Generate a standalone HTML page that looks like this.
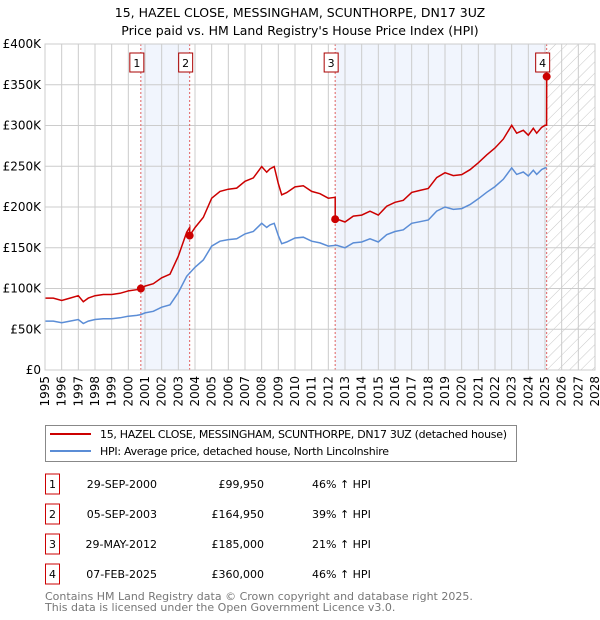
<!DOCTYPE html>
<html><head><meta charset="utf-8"><style>
body{margin:0;background:#fff;}
svg{display:block;font-family:"DejaVu Sans","Liberation Sans",sans-serif;}
</style></head><body>
<svg id="c" width="600" height="620" viewBox="0 0 600 620">
<defs>
<pattern id="hatch" width="8" height="8" patternUnits="userSpaceOnUse" patternTransform="rotate(45)">
<line x1="0" y1="0" x2="0" y2="8" stroke="#c8c8c8" stroke-width="1"/>
</pattern>
</defs>
<text x="300" y="17" text-anchor="middle" font-size="12.5" fill="#000">15, HAZEL CLOSE, MESSINGHAM, SCUNTHORPE, DN17 3UZ</text>
<text x="300" y="35" text-anchor="middle" font-size="12.5" fill="#000">Price paid vs. HM Land Registry's House Price Index (HPI)</text>
<g id="plot"></g>
<g id="legend">
<rect x="45.5" y="425.5" width="471" height="36" fill="#fff" stroke="#888"/>
<line x1="50" y1="434" x2="91" y2="434" stroke="#cc0000" stroke-width="2"/>
<text x="100" y="438" font-size="11" textLength="407">15, HAZEL CLOSE, MESSINGHAM, SCUNTHORPE, DN17 3UZ (detached house)</text>
<line x1="50" y1="451" x2="91" y2="451" stroke="#5b8dd6" stroke-width="2"/>
<text x="100" y="455" font-size="11" textLength="289">HPI: Average price, detached house, North Lincolnshire</text>
</g>
<g id="table"></g>
<text x="45" y="600" font-size="11" fill="#777">Contains HM Land Registry data © Crown copyright and database right 2025.</text>
<text x="45" y="611" font-size="11" fill="#777">This data is licensed under the Open Government Licence v3.0.</text>
</svg>
<script>
const hpiYears=[1995,1995.5,1996,1996.5,1997,1997.3,1997.6,1998,1998.5,1999,1999.5,2000,2000.5,2000.75,2001,2001.5,2002,2002.5,2003,2003.5,2004,2004.5,2005,2005.5,2006,2006.5,2007,2007.5,2008,2008.3,2008.5,2008.75,2009,2009.2,2009.5,2010,2010.5,2011,2011.5,2012,2012.5,2013,2013.5,2014,2014.5,2015,2015.5,2016,2016.5,2017,2017.5,2018,2018.5,2019,2019.5,2020,2020.5,2021,2021.5,2022,2022.5,2023,2023.3,2023.7,2024,2024.3,2024.5,2024.8,2025,2025.1];
const hpiValues=[60,60,58,60,62,57,60,62,63,63,64,66,67,68,70,72,77,80,95,115,126,135,152,158,160,161,167,170,180,175,178,180,165,155,157,162,163,158,156,152,153,150,156,157,161,157,166,170,172,180,182,184,195,200,197,198,203,210,218,225,234,248,240,243,238,245,240,246,248,248];
const saleLabels=["1","2","3","4"];
const saleDates=["29-SEP-2000","05-SEP-2003","29-MAY-2012","07-FEB-2025"];
const saleYears=[2000.75,2003.68,2012.41,2025.1];
const salePrices=[99950,164950,185000,360000];
const salePcts=["46% ↑ HPI","39% ↑ HPI","21% ↑ HPI","46% ↑ HPI"];
const yTicks=[0,50,100,150,200,250,300,350,400];
const yTickLabels=["£0","£50K","£100K","£150K","£200K","£250K","£300K","£350K","£400K"];
const xTicks=[1995,1996,1997,1998,1999,2000,2001,2002,2003,2004,2005,2006,2007,2008,2009,2010,2011,2012,2013,2014,2015,2016,2017,2018,2019,2020,2021,2022,2023,2024,2025,2026,2027,2028];

const NS="http://www.w3.org/2000/svg";
const X0=45,X1=595,Y0=370,Y1=44;
const xs=y=>X0+(y-1995)/(2028-1995)*(X1-X0);
const ys=v=>Y0-v/400*(Y0-Y1);
function mk(tag,attrs,parent){const e=document.createElementNS(NS,tag);for(const k in attrs)e.setAttribute(k,attrs[k]);parent.appendChild(e);return e;}
function hpiAt(t){for(let i=0;i<hpiYears.length-1;i++){if(t<=hpiYears[i+1]){const f=(t-hpiYears[i])/(hpiYears[i+1]-hpiYears[i]);return hpiValues[i]+f*(hpiValues[i+1]-hpiValues[i]);}}return hpiValues[hpiValues.length-1];}
const plot=document.getElementById('plot');

for(let i=0;i<saleYears.length;i+=2){
  const r=mk('rect',{x:xs(saleYears[i]),y:Y1,width:xs(saleYears[i+1])-xs(saleYears[i]),height:Y0-Y1,fill:'#eef3fd',opacity:0.8},plot);
  
  
}
const h=mk('rect',{x:xs(saleYears[3]),y:Y1,width:X1-xs(saleYears[3]),height:Y0-Y1,fill:'url(#hatch)'},plot);



xTicks.forEach(t=>{
  const l=mk('line',{x1:xs(t),x2:xs(t),y1:Y1,y2:Y0,stroke:'#cccccc','stroke-width':1},plot);
  
  
  const tx=mk('text',{x:0,y:0,'font-size':12,'text-anchor':'end',transform:`translate(${xs(t)+4},${Y0+6}) rotate(-90)`},plot);
  tx.textContent=t;
  
  
});
yTicks.forEach((t,i)=>{
  const l=mk('line',{x1:X0,x2:X1,y1:ys(t),y2:ys(t),stroke:'#cccccc','stroke-width':1},plot);
  
  
  const tx=mk('text',{x:X0-4,y:ys(t)+4,'font-size':12,'text-anchor':'end'},plot);
  tx.textContent=yTickLabels[i];
  
  
});

saleYears.forEach(s=>{
  const l=mk('line',{x1:xs(s),x2:xs(s),y1:Y1,y2:Y0,stroke:'#e06060','stroke-width':1,'stroke-dasharray':'2,2'},plot);
  
  
});

let d='';
hpiYears.forEach((t,i)=>{d+=(i?'L':'M')+xs(t).toFixed(1)+','+ys(hpiValues[i]).toFixed(1);});
const hp=mk('path',{d:d,fill:'none',stroke:'#5b8dd6','stroke-width':1.5},plot);



let pd='';
let first=true;
const pts=[];
hpiYears.forEach((t)=>{
  let k=0;for(let j=0;j<saleYears.length;j++)if(saleYears[j]<=t)k=j;
  const ratio=(salePrices[k]/1000)/hpiAt(saleYears[k]);
  pts.push([t,hpiAt(t)*ratio]);
});
saleYears.forEach((s,k)=>{
  const prev=k>0?k-1:0;
  const r0=(salePrices[prev]/1000)/hpiAt(saleYears[prev]);
  pts.push([s-0.001,hpiAt(s)*r0]);
  pts.push([s,salePrices[k]/1000]);
});
pts.sort((a,b)=>a[0]-b[0]);
pts.forEach(p=>{pd+=(first?'M':'L')+xs(p[0]).toFixed(1)+','+ys(p[1]).toFixed(1);first=false;});
const pp=mk('path',{d:pd,fill:'none',stroke:'#cc0000','stroke-width':1.5},plot);



saleYears.forEach((s,k)=>{
  const c=mk('circle',{cx:xs(s),cy:ys(salePrices[k]/1000),r:4,fill:'#cc0000'},plot);
  
  
  const bx=xs(s)-11;
  const b=mk('rect',{x:bx,y:53,width:14,height:19,fill:'#fff',stroke:'#aa0000'},plot);
  
  
  const t=mk('text',{x:bx+7,y:67,'font-size':11,'text-anchor':'middle'},plot);
  t.textContent=saleLabels[k];
  
  
});

const ax=mk('rect',{x:X0,y:Y1,width:X1-X0,height:Y0-Y1,fill:'none',stroke:'#cccccc'},plot);



const tb=document.getElementById('table');
saleLabels.forEach((lab,k)=>{
  const cy=484+k*30;
  const r=mk('rect',{x:45.5,y:cy-10,width:14,height:20,fill:'#fff',stroke:'#cc0000'},tb);
  
  
  const n=mk('text',{x:52.5,y:cy+4,'font-size':11,'text-anchor':'middle'},tb);n.textContent=lab;
  
  
  const dt=mk('text',{x:157,y:cy+4,'font-size':11,'text-anchor':'end'},tb);dt.textContent=saleDates[k];
  
  
  const pr=mk('text',{x:264,y:cy+4,'font-size':11,'text-anchor':'end'},tb);pr.textContent='£'+salePrices[k].toLocaleString('en-GB');
  
  
  const pc=mk('text',{x:312,y:cy+4,'font-size':11},tb);pc.textContent=salePcts[k];
  
  
});
</script>
</body></html>
